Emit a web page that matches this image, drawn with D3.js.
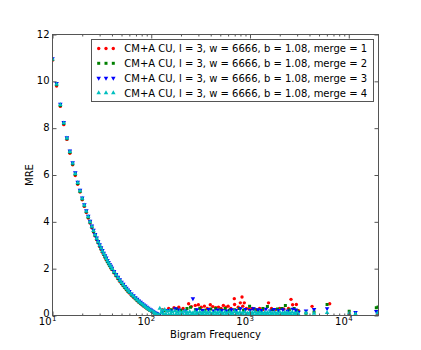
<!DOCTYPE html>
<html>
<head>
<meta charset="utf-8">
<script src="https://cdn.jsdelivr.net/npm/d3@7"></script>
<style>
  body { margin: 0; background: #fff; }
  svg { display: block; font-family: "DejaVu Sans", sans-serif; }
  .axis path { display: none; }
  .axis line { stroke: #555; }
</style>
</head>
<body>
<svg id="chart" width="421" height="350"></svg>
<script>
const seriesNames = [
    'CM+A CU, l = 3, w = 6666, b = 1.08, merge = 1',
    'CM+A CU, l = 3, w = 6666, b = 1.08, merge = 2',
    'CM+A CU, l = 3, w = 6666, b = 1.08, merge = 3',
    'CM+A CU, l = 3, w = 6666, b = 1.08, merge = 4'
]
const seriesColors = ['#ff0000', '#008000', '#0000ff', '#00bfbf']

const xTicks = [10, 100, 1000, 10000]
const yTicks = [0, 2, 4, 6, 8, 10, 12]

// low frequency part of the curve (same frequencies for every series)
const curveFreq = [10, 11, 12, 13, 14, 15, 16, 17, 18, 19, 20, 21, 22, 23, 24, 25, 26, 27, 28, 29, 30,
    31, 32, 33, 34, 35, 36, 37, 38, 39, 40,
    42, 44, 46, 48, 50, 52, 54, 56, 58, 60,
    63, 66, 69, 72, 75, 78, 81, 84, 87, 90, 93, 96, 99, 102, 105, 108, 111, 114, 117, 120]

const curveMre1 = [10.9, 9.8, 8.93, 8.15, 7.52, 6.93, 6.44, 5.98, 5.6, 5.27, 4.94, 4.66, 4.4, 4.16, 3.95, 3.76, 3.57, 3.4, 3.24, 3.1, 2.95,
    2.83, 2.7, 2.6, 2.49, 2.38, 2.29, 2.2, 2.12, 2.03, 1.96,
    1.82, 1.69, 1.57, 1.46, 1.36, 1.27, 1.18, 1.1, 1.03, 0.96,
    0.87, 0.78, 0.71, 0.63, 0.57, 0.5, 0.45, 0.4, 0.35, 0.31, 0.27, 0.23, 0.2, 0.16, 0.13, 0.1, 0.07, 0.05, 0.03, 0.02]
const curveMre2 = [10.93, 9.85, 8.97, 8.2, 7.55, 6.97, 6.47, 6.03, 5.64, 5.3, 4.98, 4.69, 4.43, 4.2, 3.98, 3.78, 3.6, 3.42, 3.27, 3.12, 2.98,
    2.85, 2.73, 2.62, 2.51, 2.41, 2.31, 2.22, 2.14, 2.06, 1.98,
    1.84, 1.71, 1.59, 1.48, 1.38, 1.29, 1.2, 1.12, 1.05, 0.98,
    0.88, 0.8, 0.72, 0.65, 0.58, 0.52, 0.47, 0.42, 0.37, 0.32, 0.28, 0.24, 0.21, 0.17, 0.14, 0.11, 0.08, 0.06, 0.04, 0.02]
const curveMre3 = [10.97, 9.92, 9.03, 8.25, 7.6, 7.03, 6.53, 6.1, 5.7, 5.36, 5.03, 4.74, 4.48, 4.25, 4.03, 3.83, 3.65, 3.47, 3.32, 3.17, 3.03,
    2.9, 2.78, 2.67, 2.56, 2.46, 2.36, 2.27, 2.19, 2.11, 2.03,
    1.89, 1.76, 1.64, 1.53, 1.43, 1.34, 1.25, 1.17, 1.1, 1.03,
    0.93, 0.85, 0.77, 0.7, 0.63, 0.57, 0.51, 0.46, 0.41, 0.36, 0.32, 0.28, 0.24, 0.2, 0.17, 0.13, 0.1, 0.08, 0.05, 0.03]
const curveMre4 = [10.95, 9.88, 9.0, 8.22, 7.57, 7.0, 6.5, 6.06, 5.67, 5.32, 5.0, 4.71, 4.45, 4.22, 4.0, 3.8, 3.62, 3.44, 3.29, 3.14, 3.0,
    2.87, 2.75, 2.64, 2.53, 2.43, 2.33, 2.24, 2.16, 2.08, 2.0,
    1.86, 1.73, 1.61, 1.5, 1.4, 1.31, 1.22, 1.14, 1.07, 1.0,
    0.9, 0.82, 0.74, 0.67, 0.6, 0.54, 0.48, 0.43, 0.38, 0.33, 0.29, 0.25, 0.21, 0.18, 0.14, 0.11, 0.08, 0.05, 0.03, 0.01]

// high frequency tail, each series
const tailFreq1 = [130, 150, 170, 190, 210, 239, 255, 279, 300, 320, 345, 370, 396, 420, 450, 480, 510, 537, 570, 600,
    640, 693, 698, 760, 798, 830, 845, 875, 920, 980, 1050, 1150, 1250, 1350, 1540, 1650, 1800, 2000, 2200, 2450,
    2600, 2700, 2946, 3100, 4250, 6410, 10100, 19500]
const tailMre1 = [0.25, 0.3, 0.33, 0.35, 0.3, 0.5, 0.38, 0.43, 0.46, 0.35, 0.4, 0.3, 0.46, 0.38, 0.33, 0.36, 0.3, 0.43, 0.35, 0.4,
    0.3, 0.72, 0.47, 0.35, 0.54, 0.79, 0.4, 0.54, 0.3, 0.28, 0.3, 0.25, 0.3, 0.25, 0.54, 0.3, 0.25, 0.3, 0.28, 0.3,
    0.69, 0.46, 0.47, 0.2, 0.39, 0.5, 0.05, 0.05]

const tailFreq2 = [135, 160, 180, 200, 230, 250, 280, 310, 350, 400, 450, 500, 560, 620, 700, 780, 860, 990, 1100, 1200,
    1350, 1500, 1700, 1900, 2100, 2280, 2500, 2800, 3000, 3690, 4450, 6030, 10100, 11700, 19000, 19800]
const tailMre2 = [0.2, 0.25, 0.28, 0.22, 0.3, 0.35, 0.25, 0.3, 0.22, 0.28, 0.3, 0.25, 0.3, 0.22, 0.25, 0.3, 0.22, 0.4, 0.28, 0.22,
    0.3, 0.38, 0.25, 0.28, 0.3, 0.43, 0.25, 0.3, 0.2, 0.1, 0.15, 0.47, 0.18, 0.05, 0.33, 0.36]

const tailFreq3 = [130, 145, 160, 175, 190, 220, 264, 290, 330, 380, 430, 470, 520, 580, 650, 720, 800, 900, 1000, 1080,
    1200, 1300, 1450, 1600, 1750, 1950, 2150, 2400, 2700, 2900, 3100, 3690, 4450, 6030, 11700, 19000]
const tailMre3 = [0.18, 0.22, 0.2, 0.3, 0.24, 0.2, 0.72, 0.25, 0.22, 0.26, 0.2, 0.24, 0.22, 0.2, 0.25, 0.22, 0.3, 0.26, 0.22, 0.3,
    0.25, 0.22, 0.28, 0.2, 0.26, 0.22, 0.25, 0.2, 0.28, 0.24, 0.15, 0.2, 0.26, 0.3, 0.14, 0.18]

const tailFreq4 = [122, 129, 137, 145, 154, 163, 173, 183, 194, 206, 218, 231, 245, 260, 276, 292, 310, 328, 348, 369,
    391, 415, 440, 466, 494, 524, 555, 588, 624, 661, 701, 743, 788, 835, 885, 938, 995, 1054, 1118, 1185,
    1256, 1331, 1411, 1496, 1585, 1680, 1781, 1888, 2001, 2121, 2249, 2384, 2527, 2678, 2839, 3009,
    126, 133, 141, 150, 158, 168, 178, 189, 200, 212, 225, 238, 253, 268, 284, 301, 319, 338, 358, 380,
    403, 427, 453, 480, 509, 539, 571, 606, 642, 680, 722, 765, 811, 860, 911, 966, 1024, 1086, 1151, 1220,
    1293, 1371, 1453, 1540, 1632, 1730, 1834, 1944, 2061, 2185, 2316, 2455, 2602, 2758, 2924, 3100,
    3690, 4450, 6030, 10100, 11700, 19500]
const tailMre4 = [0.3, 0.22, 0.25, 0.18, 0.2, 0.15, 0.19, 0.14, 0.17, 0.12, 0.18, 0.13, 0.16, 0.1, 0.17, 0.12, 0.15, 0.11, 0.16, 0.12,
    0.14, 0.1, 0.15, 0.12, 0.16, 0.11, 0.14, 0.12, 0.15, 0.1, 0.16, 0.12, 0.14, 0.11, 0.15, 0.1, 0.13, 0.12, 0.15, 0.1,
    0.14, 0.11, 0.13, 0.12, 0.15, 0.1, 0.13, 0.11, 0.14, 0.1, 0.13, 0.12, 0.11, 0.14, 0.1, 0.12,
    0.12, 0.08, 0.06, 0.04, 0.07, 0.03, 0.05, 0.06, 0.04, 0.02, 0.06, 0.05, 0.03, 0.07, 0.04, 0.05, 0.02, 0.06, 0.04, 0.03,
    0.05, 0.06, 0.02, 0.04, 0.07, 0.03, 0.05, 0.04, 0.06, 0.02, 0.05, 0.03, 0.06, 0.04, 0.02, 0.05, 0.07, 0.03, 0.04, 0.06,
    0.02, 0.05, 0.03, 0.04, 0.06, 0.02, 0.05, 0.03, 0.04, 0.06, 0.03, 0.05, 0.02, 0.04, 0.03, 0.05,
    0.11, 0.09, 0.12, 0.1, 0.07, 0.1]

const plot = { left: 52.5, right: 378.5, top: 34.5, bottom: 315.5 }

const symCircle = d3.symbol().type(d3.symbolCircle).size(9)
const symSquare = d3.symbol().type(d3.symbolSquare).size(9)
const symTriangle = d3.symbol().type(d3.symbolTriangle).size(9)

const shapes = [
    { path: symCircle(), rot: 0 },
    { path: symSquare(), rot: 0 },
    { path: symTriangle(), rot: 180 },
    { path: symTriangle(), rot: 0 }
]

const curves = [curveMre1, curveMre2, curveMre3, curveMre4]
const tailsF = [tailFreq1, tailFreq2, tailFreq3, tailFreq4]
const tailsM = [tailMre1, tailMre2, tailMre3, tailMre4]

const series = seriesNames.map((name, i) => ({
    name: name,
    color: seriesColors[i],
    shape: shapes[i],
    points: curveFreq.map((f, j) => ({ f: f, v: curves[i][j] }))
        .concat(tailsF[i].map((f, j) => ({ f: f, v: tailsM[i][j] })))
}))

const x = d3.scaleLog().domain([10, 20000]).range([plot.left, plot.right])
const y = d3.scaleLinear().domain([0, 12]).range([plot.bottom, plot.top])

const svg = d3.select('#chart')

svg.append('clipPath').attr('id', 'clip')
    .append('rect')
    .attr('x', plot.left).attr('y', plot.top)
    .attr('width', plot.right - plot.left).attr('height', plot.bottom - plot.top)

// points
const pts = svg.append('g').attr('clip-path', 'url(#clip)')

series.forEach(function(s) {
    pts.append('g')
        .selectAll('path')
        .data(s.points)
        .enter().append('path')
        .attr('d', s.shape.path)
        .attr('fill', s.color)
        .attr('transform', (d) => `translate(${x(d.f)},${y(d.v)}) rotate(${s.shape.rot})`)
})

// ticks (inside, all four sides)
const minorX = []
for (let e = 1; e <= 4; e++) {
    for (let m = 2; m <= 9; m++) {
        const v = m * Math.pow(10, e)
        if (v < 20000) minorX.push(v)
    }
}

svg.append('g').attr('class', 'axis')
    .attr('transform', `translate(0,${plot.bottom})`)
    .call(d3.axisBottom(x).tickValues(xTicks).tickSize(-4).tickFormat(''))
svg.append('g').attr('class', 'axis')
    .attr('transform', `translate(0,${plot.bottom})`)
    .call(d3.axisBottom(x).tickValues(minorX).tickSize(-2).tickFormat(''))
svg.append('g').attr('class', 'axis')
    .attr('transform', `translate(0,${plot.top})`)
    .call(d3.axisTop(x).tickValues(xTicks).tickSize(-4).tickFormat(''))
svg.append('g').attr('class', 'axis')
    .attr('transform', `translate(0,${plot.top})`)
    .call(d3.axisTop(x).tickValues(minorX).tickSize(-2).tickFormat(''))
svg.append('g').attr('class', 'axis')
    .attr('transform', `translate(${plot.left},0)`)
    .call(d3.axisLeft(y).tickValues(yTicks).tickSize(-4).tickFormat(''))
svg.append('g').attr('class', 'axis')
    .attr('transform', `translate(${plot.right},0)`)
    .call(d3.axisRight(y).tickValues(yTicks).tickSize(-4).tickFormat(''))

svg.selectAll('.axis text').remove()

// frame
svg.append('rect')
    .attr('x', plot.left).attr('y', plot.top)
    .attr('width', plot.right - plot.left).attr('height', plot.bottom - plot.top)
    .attr('fill', 'none').attr('stroke', '#555').attr('stroke-width', 1)

// tick labels
svg.append('g').selectAll('text')
    .data(yTicks)
    .enter().append('text')
    .attr('x', plot.left - 3)
    .attr('y', (d) => y(d) + (d === 0 ? 1.5 : 3))
    .attr('text-anchor', 'end')
    .attr('font-size', 10)
    .text((d) => d)

const xl = svg.append('g').selectAll('g')
    .data(xTicks)
    .enter().append('g')
xl.append('text')
    .attr('x', (d) => x(d) - 1)
    .attr('y', 325)
    .attr('text-anchor', 'end')
    .attr('font-size', 10)
    .text('10')
xl.append('text')
    .attr('x', (d) => x(d) - 0.5)
    .attr('y', 320.5)
    .attr('font-size', 7)
    .text((d) => Math.round(Math.log10(d)))

// axis titles
svg.append('text')
    .attr('x', (plot.left + plot.right) / 2)
    .attr('y', 337.5)
    .attr('text-anchor', 'middle')
    .attr('font-size', 10)
    .text('Bigram Frequency')

svg.append('text')
    .attr('transform', `translate(33.3,${(plot.top + plot.bottom) / 2}) rotate(-90)`)
    .attr('text-anchor', 'middle')
    .attr('font-size', 10)
    .text('MRE')

// legend
const legend = svg.append('g')
legend.append('rect')
    .attr('x', 91.5).attr('y', 39.5)
    .attr('width', 282).attr('height', 62)
    .attr('fill', '#fff').attr('stroke', '#555')

const rows = legend.selectAll('g.row')
    .data(series)
    .enter().append('g')
    .attr('class', 'row')
    .attr('transform', (d, i) => `translate(0,${48.5 + i * 14.8})`)

rows.each(function(s) {
    const g = d3.select(this)
    ;[98.7, 106, 113.3].forEach(function(mx) {
        g.append('path')
            .attr('d', s.shape.path)
            .attr('fill', s.color)
            .attr('transform', `translate(${mx},0) rotate(${s.shape.rot})`)
    })
    g.append('text')
        .attr('x', 124.3)
        .attr('y', 3.6)
        .attr('font-size', 10)
        .text(s.name)
})
</script>
</body>
</html>
